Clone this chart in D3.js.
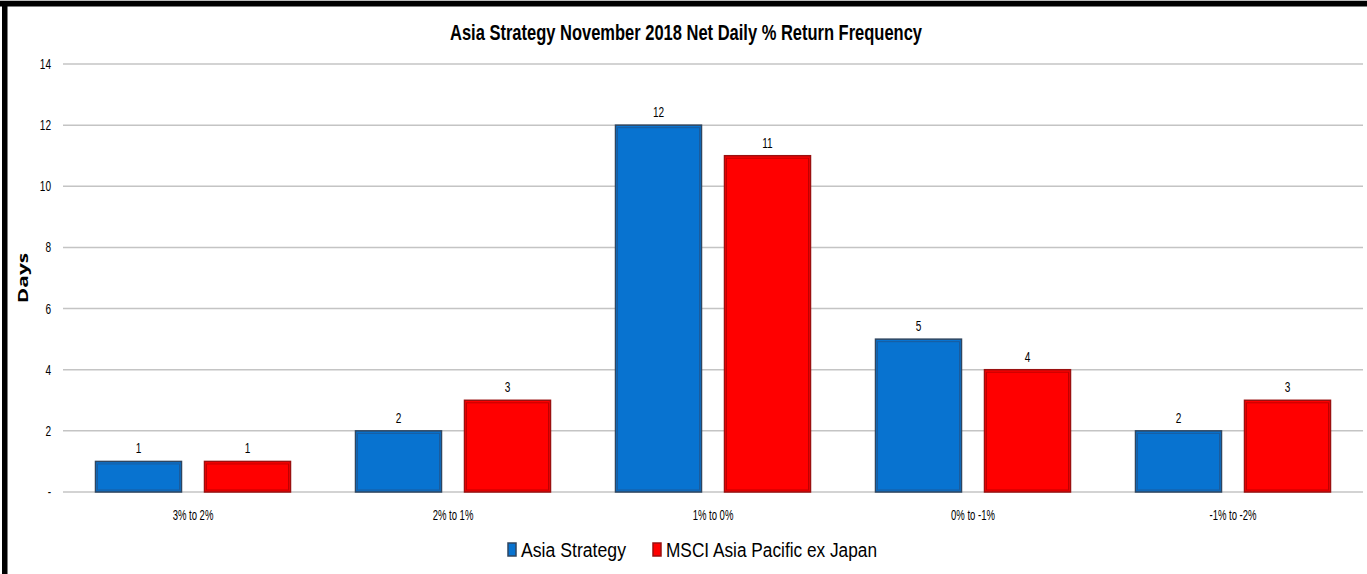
<!DOCTYPE html>
<html>
<head>
<meta charset="utf-8">
<script src="https://cdn.jsdelivr.net/npm/d3@7"></script>
<style>
  body { margin: 0; background: #ffffff; }
  svg { display: block; }
</style>
</head>
<body>
<div id="chart"></div>
<script>
var categories = ["3% to 2%", "2% to 1%", "1% to 0%", "0% to -1%", "-1% to -2%"];
var seriesNames = ["Asia Strategy", "MSCI Asia Pacific ex Japan"];
var asiaStrategy = [1, 2, 12, 5, 2];
var msciAsia = [1, 3, 11, 4, 3];
var yTicks = [0, 2, 4, 6, 8, 10, 12, 14];
var titleText = "Asia Strategy November 2018 Net Daily % Return Frequency";

var width = 1367, height = 574;
var fontMain = "'Liberation Sans', Arial, sans-serif";
var squeeze = 0.72;  // the source picture is squashed horizontally
var fillColors = ["#0873D0", "#FF0000"];
var outerStroke = ["#2F4660", "#9A1010"];
var innerStroke = ["#1A5C9E", "#C00000"];

var svg = d3.select("#chart")
    .append("svg")
    .attr("width", width)
    .attr("height", height);

svg.append("rect")
    .attr("x", 0).attr("y", 0)
    .attr("width", width).attr("height", height)
    .attr("fill", "#ffffff");

// frame borders (top and left only)
svg.append("rect").attr("x", 0).attr("y", 0).attr("width", width).attr("height", 1).attr("fill", "#bbbbbb");
svg.append("rect").attr("x", 0).attr("y", 1).attr("width", width).attr("height", 5.5).attr("fill", "#000000");
svg.append("rect").attr("x", 2).attr("y", 1).attr("width", 5.5).attr("height", height).attr("fill", "#000000");

function squashed(x, y, sx) {
    return "translate(" + x + "," + y + ") scale(" + sx + ",1)";
}

var x0 = d3.scaleBand()
    .domain(categories)
    .range([63, 1363])
    .paddingInner(0.25)
    .paddingOuter(0.125);

var x1 = d3.scaleBand()
    .domain(seriesNames)
    .range([0, x0.bandwidth()])
    .paddingInner(0.211);

var y = d3.scaleLinear()
    .domain([0, 14])
    .range([492, 64]);

// gridlines
svg.append("g")
    .selectAll("line")
    .data(yTicks)
    .enter()
    .append("line")
    .attr("x1", 63)
    .attr("x2", 1363)
    .attr("y1", d => y(d))
    .attr("y2", d => y(d))
    .attr("stroke", "#c4c4c4")
    .attr("stroke-width", 1.5);

// y tick labels
svg.append("g")
    .selectAll("text")
    .data(yTicks)
    .enter()
    .append("text")
    .attr("transform", d => squashed(51, y(d) + 5, squeeze))
    .attr("text-anchor", "end")
    .attr("font-family", fontMain)
    .attr("font-size", "14px")
    .attr("fill", "#000")
    .text(d => d === 0 ? "-" : d);

// y axis title
svg.append("text")
    .attr("transform", "translate(28, 278) scale(0.7,1) rotate(-90)")
    .attr("text-anchor", "middle")
    .attr("font-family", "'Open Sans', 'DejaVu Sans', sans-serif")
    .attr("font-weight", "bold")
    .attr("font-size", "21px")
    .attr("fill", "#000")
    .text("Days");

// title
svg.append("text")
    .attr("x", 686)
    .attr("y", 40)
    .attr("text-anchor", "middle")
    .attr("font-family", fontMain)
    .attr("font-weight", "bold")
    .attr("font-size", "22px")
    .attr("textLength", 472)
    .attr("lengthAdjust", "spacingAndGlyphs")
    .attr("fill", "#000")
    .text(titleText);

var rows = categories.map(function (c, i) {
    return { cat: c, values: [asiaStrategy[i], msciAsia[i]] };
});

var groups = svg.append("g")
    .selectAll("g")
    .data(rows)
    .enter()
    .append("g")
    .attr("transform", d => "translate(" + x0(d.cat) + ",0)");

var bars = groups.selectAll("g.bar")
    .data(d => d.values.map((v, k) => ({ key: seriesNames[k], k: k, v: v })))
    .enter()
    .append("g")
    .attr("class", "bar");

bars.append("rect")
    .attr("x", d => x1(d.key))
    .attr("y", d => y(d.v))
    .attr("width", x1.bandwidth())
    .attr("height", d => y(0) - y(d.v))
    .attr("fill", d => fillColors[d.k])
    .attr("stroke", d => outerStroke[d.k])
    .attr("stroke-width", 1.5);

bars.append("rect")
    .attr("x", d => x1(d.key) + 2)
    .attr("y", d => y(d.v) + 2.5)
    .attr("width", x1.bandwidth() - 4)
    .attr("height", d => y(0) - y(d.v) - 4.5)
    .attr("fill", "none")
    .attr("stroke", d => innerStroke[d.k])
    .attr("stroke-width", 1);

bars.append("text")
    .attr("transform", d => squashed(x1(d.key) + x1.bandwidth() / 2, y(d.v) - 8, squeeze))
    .attr("text-anchor", "middle")
    .attr("font-family", fontMain)
    .attr("font-size", "14px")
    .attr("fill", "#000")
    .text(d => d.v);

// category labels
svg.append("g")
    .selectAll("text")
    .data(categories)
    .enter()
    .append("text")
    .attr("transform", d => squashed(x0(d) + x0.bandwidth() / 2, 520, 0.68))
    .attr("text-anchor", "middle")
    .attr("font-family", fontMain)
    .attr("font-size", "14px")
    .attr("fill", "#000")
    .text(d => d);

// legend
var legendX = [508, 653];
var legendLen = [105, 211];
var legend = svg.append("g")
    .selectAll("g")
    .data(seriesNames)
    .enter()
    .append("g")
    .attr("transform", (d, i) => "translate(" + legendX[i] + ",543)");

legend.append("rect")
    .attr("x", 0)
    .attr("y", 0)
    .attr("width", 8)
    .attr("height", 13)
    .attr("fill", (d, i) => fillColors[i])
    .attr("stroke", (d, i) => outerStroke[i])
    .attr("stroke-width", 1.5);

legend.append("text")
    .attr("x", 13)
    .attr("y", 14)
    .attr("font-family", fontMain)
    .attr("font-size", "20px")
    .attr("textLength", (d, i) => legendLen[i])
    .attr("lengthAdjust", "spacingAndGlyphs")
    .attr("fill", "#000")
    .text(d => d);
</script>
</body>
</html>
